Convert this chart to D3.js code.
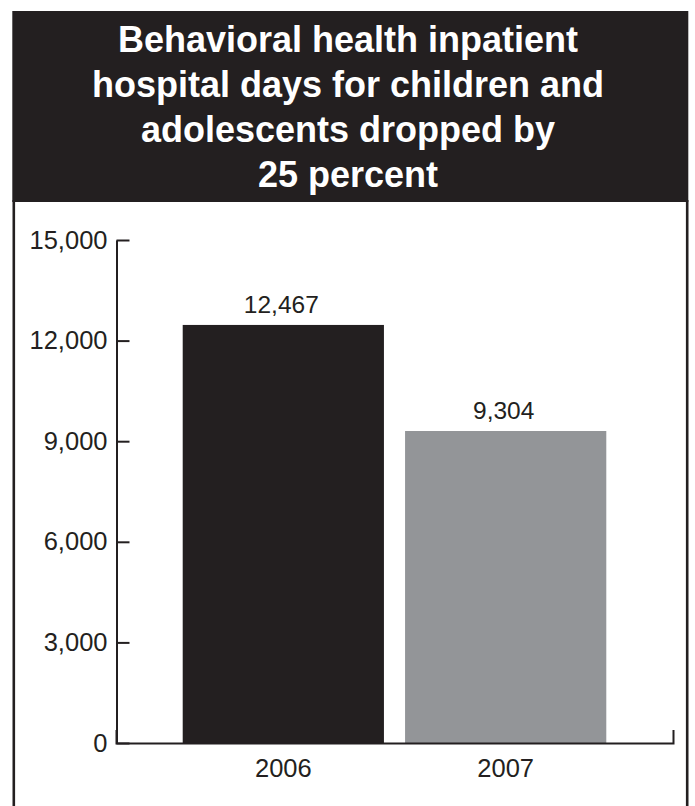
<!DOCTYPE html>
<html>
<head>
<meta charset="utf-8">
<script src="https://cdn.jsdelivr.net/npm/d3@7"></script>
<style>
  body { margin: 0; background: #fff; }
  text { font-family: "Liberation Sans", Arial, Helvetica, sans-serif; }
</style>
</head>
<body>
<svg id="chart" width="695" height="806"></svg>
<script>
// chart data
const years = ['2006', '2007']
const days = [12467, 9304]
const barColors = ['#231f20', '#939598']
const yTicks = [0, 3000, 6000, 9000, 12000, 15000]
const titleLines = [
  'Behavioral health inpatient',
  'hospital days for children and',
  'adolescents dropped by',
  '25 percent'
]

const ink = '#231f20'
const svg = d3.select('#chart')

// frame + title band
svg.append('rect')
    .attr('x', 12.3).attr('y', 11)
    .attr('width', 676).attr('height', 191)
    .attr('fill', ink)

svg.append('line')
    .attr('x1', 13.8).attr('x2', 13.8)
    .attr('y1', 200).attr('y2', 806)
    .attr('stroke', ink).attr('stroke-width', 2.6)

svg.append('line')
    .attr('x1', 687.2).attr('x2', 687.2)
    .attr('y1', 200).attr('y2', 806)
    .attr('stroke', ink).attr('stroke-width', 2.6)

svg.append('g').selectAll('text')
  .data(titleLines)
  .join('text')
    .attr('x', 348)
    .attr('y', (d, i) => 52 + i * 45)
    .attr('text-anchor', 'middle')
    .attr('fill', '#fff')
    .attr('font-weight', 'bold')
    .attr('font-size', 36)
    .text(d => d)

// scales
const x = d3.scaleBand()
    .domain(years)
    .range([116, 673])
    .paddingInner(0.095)
    .paddingOuter(0.3)

const y = d3.scaleLinear()
    .domain([0, 15000])
    .range([743, 240])

// bars
svg.append('g').selectAll('rect')
  .data(years)
  .join('rect')
    .attr('x', d => x(d))
    .attr('y', (d, i) => y(days[i]))
    .attr('width', x.bandwidth())
    .attr('height', (d, i) => y(0) - y(days[i]))
    .attr('fill', (d, i) => barColors[i])

// value labels
svg.append('g').selectAll('text')
  .data(years)
  .join('text')
    .attr('x', d => x(d) + x.bandwidth() / 2 - 2)
    .attr('y', (d, i) => y(days[i]) - 12)
    .attr('text-anchor', 'middle')
    .attr('fill', ink)
    .attr('font-size', 24.5)
    .text((d, i) => d3.format(',')(days[i]))

// y axis, ticks point inward
const yAxis = svg.append('g')
    .attr('transform', 'translate(116.5,0)')
    .call(d3.axisLeft(y)
      .tickValues(yTicks)
      .tickFormat(d3.format(','))
      .tickSizeInner(-13)
      .tickSizeOuter(0)
      .tickPadding(9))

// x axis with upturned end
const xAxis = svg.append('g')
    .attr('transform', 'translate(0,743)')
    .call(d3.axisBottom(x)
      .tickSizeInner(0)
      .tickSizeOuter(-13)
      .tickPadding(16))

;[yAxis, xAxis].forEach(g => {
  g.select('.domain').attr('stroke', ink).attr('stroke-width', 2)
  g.selectAll('.tick line').attr('stroke', ink).attr('stroke-width', 2)
  g.selectAll('.tick text')
    .attr('fill', ink)
    .attr('font-size', 25.5)
    .attr('font-family', '"Liberation Sans", Arial, Helvetica, sans-serif')
})
</script>
</body>
</html>
